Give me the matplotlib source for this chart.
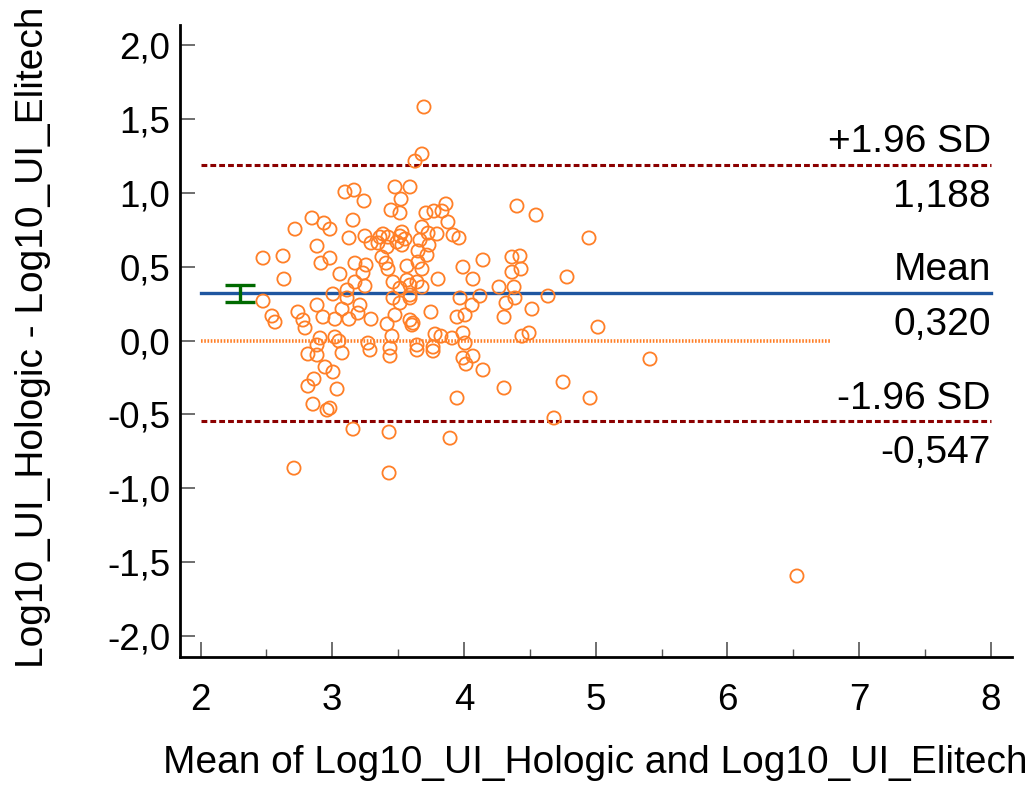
import matplotlib
matplotlib.use("Agg")
import matplotlib.pyplot as plt
from matplotlib.ticker import MultipleLocator, FuncFormatter

plt.rcParams['font.family'] = ['Liberation Sans', 'DejaVu Sans']

# Means (x) and differences (y)
mean_vals = [3.696, 3.681, 3.628, 3.096, 3.165, 3.241, 3.476, 3.590, 3.522, 3.446,
             3.514, 2.846, 2.937, 2.982, 2.717, 3.157, 3.127, 3.248, 3.385, 3.529,
             3.681, 3.711, 3.772, 3.833, 3.863, 3.878, 4.402, 4.547, 3.727, 3.795,
             3.917, 3.962, 3.666, 3.552, 4.949, 2.884, 2.474, 2.626, 2.914, 2.982,
             3.294, 3.347, 3.416, 3.491, 3.362, 3.423, 3.514, 3.651, 3.377, 3.408,
             3.423, 3.567, 3.651, 3.172, 3.256, 3.233, 3.058, 2.633, 3.172, 3.248,
             3.461, 3.514, 3.643, 3.005, 3.112, 3.112, 2.474, 3.461, 3.514, 3.590,
             2.884, 3.074, 3.210, 3.195, 2.739, 2.542, 2.565, 2.777, 2.793, 2.929,
             3.020, 3.127, 3.294, 3.476, 3.416, 3.590, 3.605, 2.907, 3.020, 3.051,
             3.271, 3.453, 2.884, 2.815, 2.884, 3.074, 3.438, 3.438, 3.643, 3.734,
             3.719, 3.681, 3.803, 3.567, 3.590, 3.681, 3.590, 4.144, 4.364, 4.425,
             4.364, 4.433, 3.992, 4.068, 4.266, 4.380, 4.782, 3.970, 4.121, 4.061,
             4.387, 4.319, 4.638, 3.749, 3.947, 4.008, 4.304, 4.516, 3.613, 5.017,
             3.780, 3.825, 3.909, 3.992, 4.008, 4.440, 4.494, 3.765, 4.068, 3.992,
             3.286, 2.945, 3.005, 2.861, 2.815, 3.036, 2.853, 2.960, 2.982, 3.157,
             3.431, 2.709, 3.431, 3.643, 3.765, 4.015, 4.144, 4.304, 3.947, 4.752,
             4.957, 4.683, 3.894, 5.412, 6.528, 3.529]
diff_vals = [1.580, 1.262, 1.214, 1.005, 1.018, 0.944, 1.039, 1.039, 0.957, 0.883,
             0.863, 0.829, 0.795, 0.754, 0.754, 0.815, 0.694, 0.707, 0.721, 0.734,
             0.768, 0.863, 0.876, 0.876, 0.924, 0.802, 0.910, 0.849, 0.727, 0.721,
             0.714, 0.694, 0.680, 0.687, 0.694, 0.639, 0.558, 0.572, 0.524, 0.558,
             0.660, 0.660, 0.633, 0.666, 0.700, 0.700, 0.707, 0.606, 0.565, 0.524,
             0.484, 0.504, 0.531, 0.524, 0.511, 0.457, 0.450, 0.416, 0.396, 0.369,
             0.396, 0.355, 0.396, 0.315, 0.342, 0.288, 0.267, 0.288, 0.254, 0.308,
             0.240, 0.213, 0.240, 0.186, 0.193, 0.166, 0.125, 0.139, 0.085, 0.159,
             0.145, 0.145, 0.145, 0.173, 0.112, 0.139, 0.105, 0.017, 0.024, -0.003,
             -0.017, 0.030, -0.030, -0.091, -0.098, -0.084, -0.051, -0.105, -0.030, 0.646,
             0.578, 0.484, 0.416, 0.409, 0.375, 0.362, 0.288, 0.545, 0.565, 0.572,
             0.463, 0.484, 0.497, 0.416, 0.362, 0.362, 0.430, 0.288, 0.301, 0.240,
             0.288, 0.254, 0.301, 0.193, 0.159, 0.173, 0.159, 0.213, 0.118, 0.091,
             0.044, 0.030, 0.017, 0.051, -0.017, 0.030, 0.051, -0.044, -0.105, -0.118,
             -0.064, -0.179, -0.213, -0.260, -0.308, -0.328, -0.430, -0.470, -0.457, -0.599,
             -0.619, -0.863, -0.896, -0.064, -0.071, -0.159, -0.199, -0.321, -0.389, -0.281,
             -0.389, -0.524, -0.660, -0.125, -1.593, 0.646]

mean_diff = 0.320
upper_loa = 1.188
lower_loa = -0.547
ci_low, ci_high = 0.262, 0.378
ci_x = 2.3
zero_line_end = 6.78

label_upper = ["+1.96 SD", "1,188"]
label_mean = ["Mean", "0,320"]
label_lower = ["-1.96 SD", "-0,547"]

x_label = "Mean of Log10_UI_Hologic and Log10_UI_Elitech"
y_label = "Log10_UI_Hologic - Log10_UI_Elitech"

FS = 28
TFS = 26.5
orange = "#FF7F27"
darkred = "#8B0000"
blue = "#1F56A0"
green = "#006A00"

fig = plt.figure(figsize=(10.35, 7.85), dpi=100)
ax = fig.add_axes([0.1739, 0.1634, 0.8039, 0.8048])

ax.set_xlim(1.8436, 8.161)
ax.set_ylim(-2.139, 2.135)

# zero line
ax.plot([2, zero_line_end], [0, 0], color=orange, lw=2.6, dashes=(0.45, 0.45), zorder=2)
# limits of agreement
ax.plot([2, 8], [upper_loa, upper_loa], color=darkred, lw=2.2, dashes=(1.9, 1.0), zorder=2)
ax.plot([2, 8], [lower_loa, lower_loa], color=darkred, lw=2.2, dashes=(1.9, 1.0), zorder=2)
# mean line
ax.plot([2, 8], [mean_diff, mean_diff], color=blue, lw=2.4, zorder=2)
# CI of mean
ax.errorbar([ci_x], [mean_diff], yerr=[[mean_diff - ci_low], [ci_high - mean_diff]],
            fmt='none', ecolor=green, elinewidth=2.4, capsize=11, capthick=2.4, zorder=3)

# points
ax.scatter(mean_vals, diff_vals, s=9.5**2, facecolors='none', edgecolors=orange,
           linewidths=1.3, zorder=4)

def lab(y, top, bottom):
    ax.annotate(top, xy=(8, y), xytext=(0, 3.5), textcoords='offset points',
                ha='right', va='bottom', fontsize=FS)
    ax.annotate(bottom, xy=(8, y), xytext=(0, -10), textcoords='offset points',
                ha='right', va='top', fontsize=FS)

lab(upper_loa, *label_upper)
lab(mean_diff, *label_mean)
lab(lower_loa, *label_lower)

for s in ['top', 'right']:
    ax.spines[s].set_visible(False)
for s in ['left', 'bottom']:
    ax.spines[s].set_linewidth(2.0)

ax.xaxis.set_major_locator(MultipleLocator(1))
ax.xaxis.set_minor_locator(MultipleLocator(0.5))
ax.yaxis.set_major_locator(MultipleLocator(0.5))
ax.yaxis.set_major_formatter(FuncFormatter(lambda v, p: f"{v:.1f}".replace('.', ',').replace('-0,0', '0,0')))
ax.xaxis.set_major_formatter(FuncFormatter(lambda v, p: f"{int(round(v))}"))

ax.tick_params(axis='both', which='major', direction='in', length=11, width=1.2,
               labelsize=TFS, color='#555555')
ax.tick_params(axis='x', which='major', pad=19)
ax.tick_params(axis='y', which='major', pad=7)
ax.tick_params(axis='x', which='minor', direction='in', length=5.8, width=1.0, color='#555555')

ax.set_xlabel(x_label, fontsize=FS, va='center')
ax.set_ylabel(y_label, fontsize=FS, va='center')
ax.xaxis.set_label_coords(0.499, -0.168)
ax.yaxis.set_label_coords(-0.177, 0.505)

fig.savefig("out.png", dpi=100)
